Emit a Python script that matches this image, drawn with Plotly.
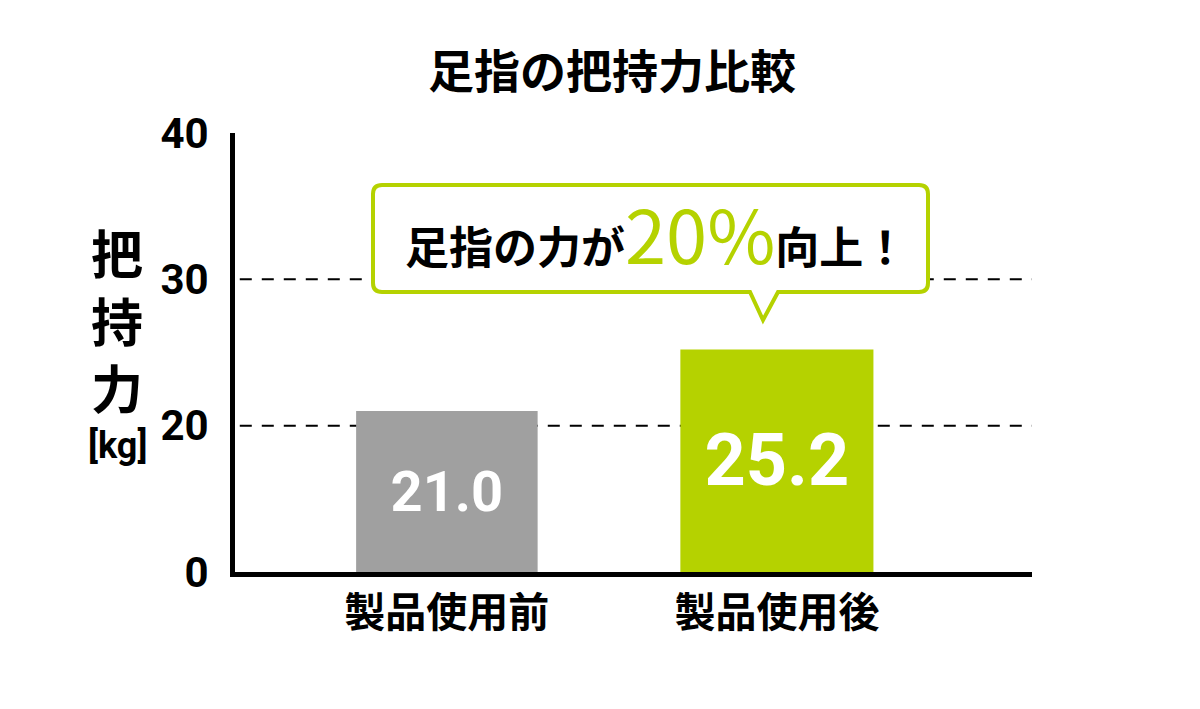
import plotly.graph_objects as go

# data
categories = ["製品使用前", "製品使用後"]
grip_kg = [21.0, 25.2]
value_labels = ["21.0", "25.2"]
tick_vals = [10, 20, 30, 40]          # bottom of the broken axis is labelled 0
tick_text = ["0", "20", "30", "40"]
grid_vals = [20, 30]

W, H = 1200, 709
OFF = 8                               # page margin of the html body
L, T = 235 - OFF, 133 - OFF
PW, PH = 797, 439
R, B = W - L - PW, H - T - PH

GREEN = "#b5d200"
GRAY = "#a0a0a0"
JP = "Noto Sans CJK JP"
NUM = "Roboto"


def px_x(p):
    # page pixel -> paper (x)
    return (p - OFF - L) / PW


def px_y(p):
    # page pixel -> paper (y)
    return (T + PH - (p - OFF)) / PH


fig = go.Figure()

fig.add_trace(go.Bar(
    x=categories,
    y=[v - tick_vals[0] for v in grip_kg],
    base=tick_vals[0],
    width=[0.55, 0.585],
    marker=dict(color=[GRAY, GREEN], line=dict(width=0)),
    text=value_labels,
    textposition="inside",
    insidetextanchor="middle",
    textfont=dict(family=NUM, size=[56, 72], color="white", weight="bold"),
    hoverinfo="skip",
))

# dashed reference lines
for g in grid_vals:
    fig.add_shape(type="line", xref="paper", yref="y", x0=0.006, x1=1, y0=g, y1=g,
                  line=dict(color="black", width=2, dash="12px,10px"), layer="below")

# speech bubble
x0, x1 = px_x(373), px_x(928)
yt, yb = px_y(185), px_y(292)
rx, ry = 9 / PW, 9 / PH
tl, tr, tx, ty = px_x(750), px_x(778), px_x(763), px_y(320)
path = (f"M {x0+rx},{yt} L {x1-rx},{yt} Q {x1},{yt} {x1},{yt-ry} "
        f"L {x1},{yb+ry} Q {x1},{yb} {x1-rx},{yb} "
        f"L {tr},{yb} L {tx},{ty} L {tl},{yb} "
        f"L {x0+rx},{yb} Q {x0},{yb} {x0},{yb+ry} "
        f"L {x0},{yt-ry} Q {x0},{yt} {x0+rx},{yt} Z")
fig.add_shape(type="path", xref="paper", yref="paper", path=path,
              line=dict(color=GREEN, width=4), fillcolor="white", layer="above")

fig.add_annotation(
    xref="paper", yref="paper", x=px_x(656), y=px_y(231),
    xanchor="center", yanchor="middle", showarrow=False,
    text=f"足指の力が<span style='font-size:74px;color:{GREEN};font-weight:normal'>20%</span>向上！",
    font=dict(family=JP, size=44, color="black", weight="bold"),
)

# y axis title, stacked
fig.add_annotation(
    xref="paper", yref="paper", x=px_x(117), y=px_y(319),
    xanchor="center", yanchor="middle", showarrow=False,
    text="把<br>持<br>力",
    font=dict(family=JP, size=52, color="black", weight="bold"),
)
fig.add_annotation(
    xref="paper", yref="paper", x=px_x(117), y=px_y(446),
    xanchor="center", yanchor="middle", showarrow=False,
    text="[kg]",
    font=dict(family=NUM, size=36, color="black", weight="bold"),
)

fig.update_layout(
    width=W, height=H,
    margin=dict(l=L, r=R, t=T, b=B),
    paper_bgcolor="white", plot_bgcolor="white",
    showlegend=False,
    title=dict(text="足指の把持力比較", x=(612 - OFF) / W, xanchor="center", xref="container",
               y=1 - (72 - OFF) / H, yanchor="middle", yref="container",
               font=dict(family=JP, size=46, color="black", weight="bold")),
    xaxis=dict(range=[-0.642, 1.773], showline=True, linecolor="black", linewidth=5,
               showgrid=False, ticks="", ticklabelstandoff=1,
               tickfont=dict(family=JP, size=41, color="black", weight="bold")),
    yaxis=dict(range=[10, 40], showline=True, linecolor="black", linewidth=5,
               showgrid=False, zeroline=False, ticks="",
               tickvals=tick_vals, ticktext=tick_text, ticklabelstandoff=13,
               tickfont=dict(family=NUM, size=42, color="black", weight="bold")),
)

fig.write_html("out.html")
